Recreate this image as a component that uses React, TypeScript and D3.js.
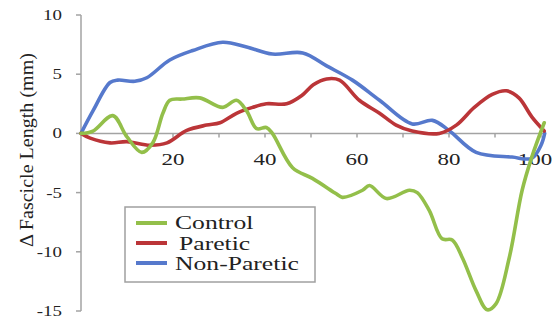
import React from "react";
import * as d3 from "d3";

// values
const controlX = [0, 2.6, 6.9, 10, 13.2, 15.6, 17.8, 19.3, 22, 25.8, 30.8, 33.8, 36, 38.2, 40.3, 41.6, 46, 50.3, 55.5, 56.8, 61.2, 62.7, 66.4, 71.4, 73.1, 75.7, 78.5, 80.7, 82.9, 85.9, 88.3, 90.2, 93.1, 95.9, 98, 100.7];
const controlY = [0, 0.2, 1.5, -0.3, -1.6, -0.8, 1.7, 2.8, 2.9, 3.0, 2.2, 2.8, 1.9, 0.4, 0.5, 0, -2.9, -3.8, -5.1, -5.4, -4.8, -4.4, -5.5, -4.8, -5.0, -6.5, -8.9, -9.0, -10.5, -13.3, -14.9, -14.4, -10.5, -4.8, -2.0, 0.9];

const pareticX = [0, 2, 6.3, 10, 15, 18.7, 23, 27.3, 30.2, 33.8, 37.3, 40.3, 44.7, 48, 50.5, 53.4, 56.2, 60.5, 64.9, 68.5, 72, 77.9, 81.6, 85.5, 89.4, 92.5, 95.2, 98, 100.7];
const pareticY = [0, -0.4, -0.8, -0.7, -1.0, -0.8, 0.25, 0.7, 0.9, 1.7, 2.2, 2.5, 2.5, 3.2, 4.1, 4.6, 4.5, 2.8, 1.7, 0.7, 0.2, 0, 0.7, 2.2, 3.3, 3.6, 3.0, 1.4, 0.2];

const nonPareticX = [0, 2.6, 6.3, 8, 11.7, 14.3, 19.3, 24.3, 30.8, 36, 41.6, 48.2, 53.4, 59, 64.9, 72, 76.4, 80, 85.9, 93.7, 98, 100, 100.8];
const nonPareticY = [0, 1.9, 4.3, 4.5, 4.4, 4.7, 6.2, 7.0, 7.7, 7.3, 6.7, 6.8, 5.7, 4.5, 2.8, 0.8, 1.1, 0.25, -1.6, -2.0, -2.1, -1.0, 0];

const seriesNames = ["Control", "Paretic", "Non-Paretic"];
const seriesColors = ["#93bf4a", "#bb3538", "#5679cc"];
const yTicks = [10, 5, 0, -5, -10, -15];
const xLabels = [20, 40, 60, 80, 100];
const xTicks = [10, 20, 30, 40, 50, 60, 70, 80, 90, 100];

const FONT = "'Liberation Serif', 'DejaVu Serif', serif";
const STRETCH = 1.35;

function Label({x, y, text, size, anchor = "start"}: any) {
  return (
    <text transform={`translate(${x},${y}) scale(${STRETCH},1)`} fontSize={size}
      fontFamily={FONT} textAnchor={anchor} fill="#222">{text}</text>
  );
}

export default function App() {
  const x = d3.scaleLinear().domain([0, 100]).range([81, 541]);
  const y = d3.scaleLinear().domain([-15, 10]).range([311, 15]);

  const series = [
    {xs: controlX, ys: controlY},
    {xs: pareticX, ys: pareticY},
    {xs: nonPareticX, ys: nonPareticY},
  ];

  const line = d3.line<[number, number]>()
    .x(d => x(d[0]))
    .y(d => y(d[1]))
    .curve(d3.curveCatmullRom.alpha(0.5));

  const axisColor = "#a3a3a3";

  return (
    <svg width={556} height={323} style={{position: "absolute", left: 0, top: 0, background: "#fff"}}>
      {/* y axis */}
      <line x1={x(0)} x2={x(0)} y1={y(10)} y2={y(-15)} stroke={axisColor} strokeWidth={1.5} />
      {yTicks.map(t => (
        <g key={t}>
          <line x1={x(0) - 5} x2={x(0)} y1={y(t)} y2={y(t)} stroke={axisColor} strokeWidth={1.5} />
          <Label x={62} y={y(t) + 5} text={String(t)} size={14} anchor="end" />
        </g>
      ))}
      {/* x axis on zero */}
      <line x1={x(0)} x2={x(100) + 4} y1={y(0)} y2={y(0)} stroke={axisColor} strokeWidth={1.5} />
      {xTicks.map(t => (
        <line key={t} x1={x(t)} x2={x(t)} y1={y(0)} y2={y(0) + 4} stroke={axisColor} strokeWidth={1.5} />
      ))}
      {/* last label kept inside the chart, as in the original */}
      {xLabels.map(t => (
        <Label key={t} x={Math.min(x(t), 535)} y={165} text={String(t)} size={17} anchor="middle" />
      ))}
      <text transform={`translate(33,150) rotate(-90)`} fontSize={19} fontFamily={FONT}
        textAnchor="middle" fill="#222" textLength={194} lengthAdjust="spacingAndGlyphs">
        Δ Fascicle Length (mm)
      </text>

      {/* lines: paretic and non-paretic under control */}
      {[2, 1, 0].map(i => (
        <path key={i} d={line(series[i].xs.map((v, j) => [v, series[i].ys[j]] as [number, number])) || ""}
          fill="none" stroke={seriesColors[i]} strokeWidth={3.6} strokeLinejoin="round" strokeLinecap="round" />
      ))}

      {/* legend */}
      <rect x={125} y={207} width={190} height={75} fill="#fff" stroke="#a0a0a0" strokeWidth={1.5} />
      {seriesNames.map((name, i) => (
        <g key={name}>
          <line x1={136} x2={167} y1={223 + i * 20} y2={223 + i * 20} stroke={seriesColors[i]} strokeWidth={4} />
          <Label x={i === 1 ? 179 : 175} y={229 + i * 20.5} text={name} size={19} />
        </g>
      ))}
    </svg>
  );
}
